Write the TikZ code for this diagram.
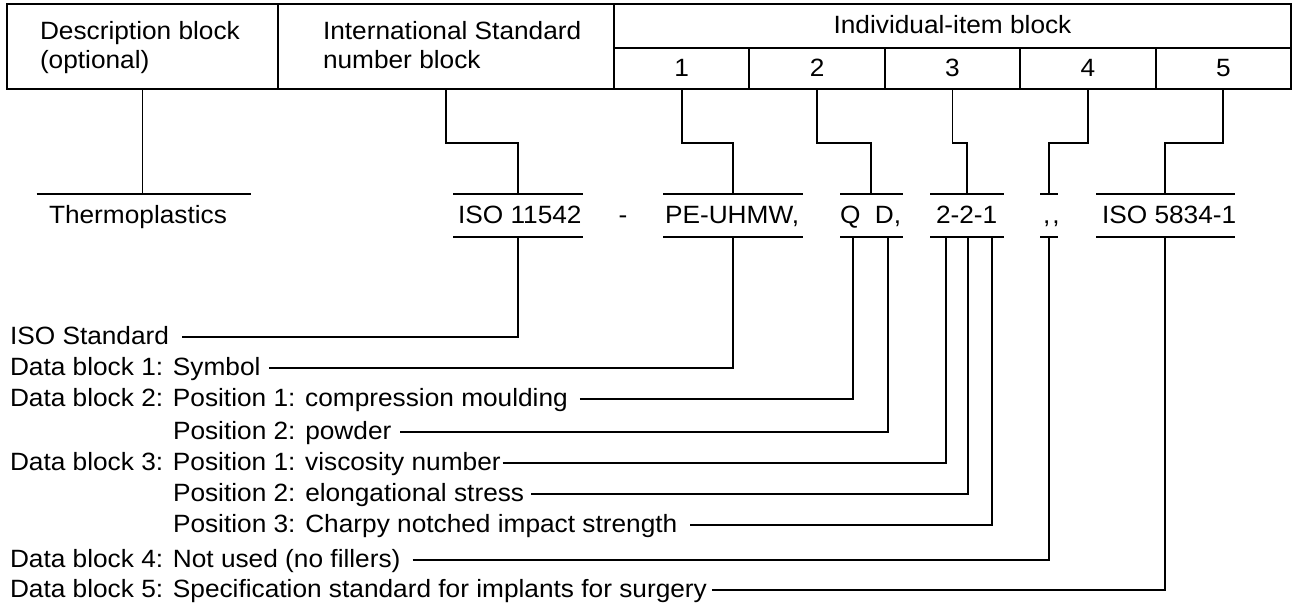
\documentclass[tikz,border=0pt]{standalone}
\usepackage{fontspec}
\setmainfont{Liberation Sans}[FakeStretch=1.05]
\begin{document}
\begin{tikzpicture}[x=1pt,y=-1pt,line width=1.9pt,
  txt/.style={inner sep=0pt,outer sep=0pt,font=\fontsize{25}{30}\selectfont},
  cell/.style={draw,inner sep=0pt,outer sep=0pt,line width=1.9pt},
  lead/.style={line width=1.9pt}]
\useasboundingbox (0,0) rectangle (1294,605);
% header cells
\node[cell,minimum width=271pt,minimum height=85pt] (desc) at (142.5,46.5) {};
\node[cell,minimum width=336pt,minimum height=85pt] (isoblk) at (446,46.5) {};
\node[cell,minimum width=677pt,minimum height=44pt] (indiv) at (952.5,26) {};
\foreach \i/\x in {1/681.7,2/817.1,3/952.5,4/1087.9,5/1223.3}{
  \node[cell,minimum width=135.4pt,minimum height=41pt] (c\i) at (\x,68.5) {};
  \node[txt,anchor=base] (n\i) at (\x,76) {\i};
}
\node[txt,anchor=base west] (h1a) at (40,39) {Description block};
\node[txt,anchor=base west] (h1b) at (40,68) {(optional)};
\node[txt,anchor=base west] (h2a) at (323,39) {International Standard};
\node[txt,anchor=base west] (h2b) at (323,68) {number block};
\node[txt,anchor=base] (h3) at (952.5,33) {Individual-item block};
% value row
\node[txt,anchor=base west] (vthermo) at (49,223) {Thermoplastics};
\node[txt,anchor=base west] (viso) at (458,223) {ISO 11542};
\node[txt,anchor=base] (vdash) at (623,223) {-};
\node[txt,anchor=base west] (vpe) at (665,223) {PE-UHMW,};
\node[txt,anchor=base west] (vqd) at (840,223) {Q\ \ D,};
\node[txt,anchor=base west] (v221) at (936,223) {2-2-1};
\node[txt,anchor=base west] (vcc) at (1043,223) {,\kern2pt,};
\node[txt,anchor=base west] (viso2) at (1102,223) {ISO 5834-1};
% bars
\draw (36.5,194) -- (251,194);
\draw (453,194) -- (583,194); \draw (453,237) -- (583,237);
\draw (663,194) -- (803,194); \draw (663,237) -- (803,237);
\draw (840,194) -- (903,194); \draw (840,237) -- (903,237);
\draw (930,194) -- (1004,194); \draw (930,237) -- (1004,237);
\draw (1040,194) -- (1058,194); \draw (1040,237) -- (1058,237);
\draw (1096,194) -- (1235,194); \draw (1096,237) -- (1235,237);
% bar attachment points
\coordinate (thT) at (142.5,194);
\coordinate (isoT) at (518,194); \coordinate (isoB) at (518,237);
\coordinate (peT) at (733,194); \coordinate (peB) at (733,237);
\coordinate (qdT) at (871,194); \coordinate (qB) at (853,237); \coordinate (dB) at (888,237);
\coordinate (tT) at (967,194); \coordinate (t1B) at (946,237); \coordinate (t2B) at (968,237); \coordinate (t3B) at (992,237);
\coordinate (ccT) at (1049,194); \coordinate (ccB) at (1049,237);
\coordinate (i5T) at (1165,194); \coordinate (i5B) at (1165,237);
% top connectors
\draw[lead] (desc.south) -- (thT);
\draw[lead] (isoblk.south) -- ++(0,54) -| (isoT);
\draw[lead] (c1.south) -- ++(0,54) -| (peT);
\draw[lead] (c2.south) -- ++(0,54) -| (qdT);
\draw[lead] (c3.south) -- ++(0,54) -| (tT);
\draw[lead] (c4.south) -- ++(0,54) -| (ccT);
\draw[lead] (c5.south) -- ++(0,54) -| (i5T);
% bottom labels
\node[txt,anchor=base west] (l1) at (10,344) {ISO Standard};
\node[txt,anchor=base west] (l2) at (10,375) {Data block 1: Symbol};
\node[txt,anchor=base west] (l3) at (10,406) {Data block 2: Position 1: compression moulding};
\node[txt,anchor=base west] (l4) at (173,439) {Position 2: powder};
\node[txt,anchor=base west] (l5) at (10,470) {Data block 3: Position 1: viscosity number};
\node[txt,anchor=base west] (l6) at (173,501) {Position 2: elongational stress};
\node[txt,anchor=base west] (l7) at (173,532) {Position 3: Charpy notched impact strength};
\node[txt,anchor=base west] (l8) at (10,567) {Data block 4: Not used (no fillers)};
\node[txt,anchor=base west] (l9) at (10,597) {Data block 5: Specification standard for implants for surgery};
% bottom connectors
\draw[lead] ([xshift=13pt,yshift=7pt]l1.base east) -| (isoB);
\draw[lead] ([xshift=9pt,yshift=7pt]l2.base east) -| (peB);
\draw[lead] ([xshift=12pt,yshift=7pt]l3.base east) -| (qB);
\draw[lead] ([xshift=9pt,yshift=7pt]l4.base east) -| (dB);
\draw[lead] ([xshift=2pt,yshift=7pt]l5.base east) -| (t1B);
\draw[lead] ([xshift=7pt,yshift=7pt]l6.base east) -| (t2B);
\draw[lead] ([xshift=13pt,yshift=7pt]l7.base east) -| (t3B);
\draw[lead] ([xshift=12pt,yshift=7pt]l8.base east) -| (ccB);
\draw[lead] ([xshift=5pt,yshift=7pt]l9.base east) -| (i5B);
\end{tikzpicture}
\end{document}
